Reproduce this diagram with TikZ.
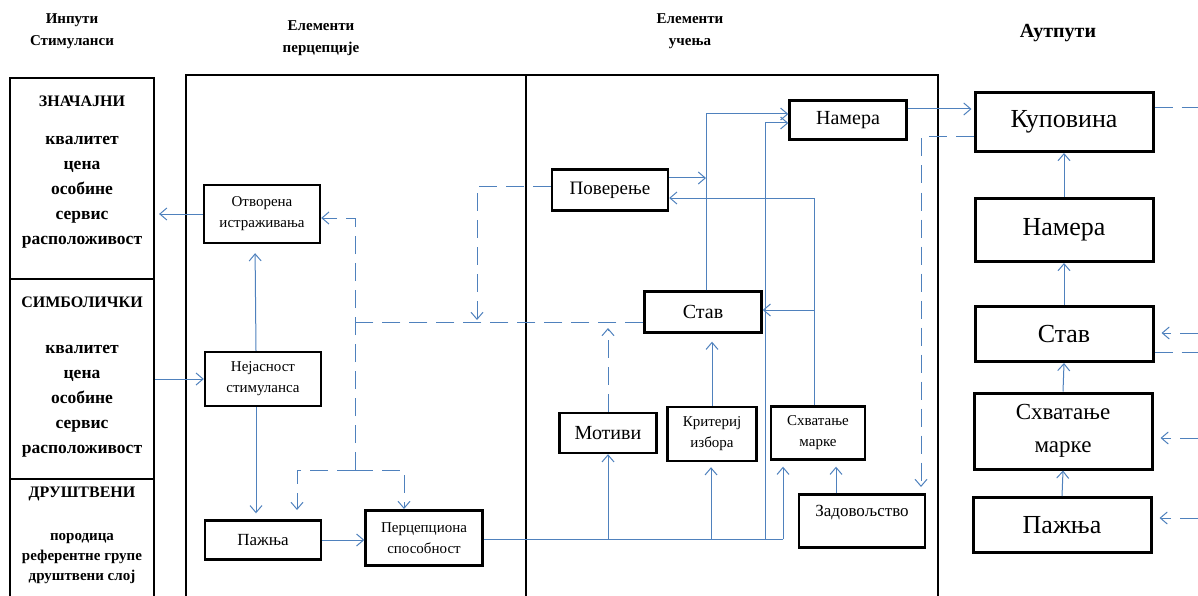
\documentclass[tikz,border=0pt]{standalone}
\usepackage{fontspec}
\setmainfont{Liberation Serif}
\usetikzlibrary{arrows.meta}
\definecolor{linkblue}{RGB}{79,129,189}

\begin{document}
\begin{tikzpicture}[
  x=1pt, y=-1pt,
  >={Straight Barb[length=7pt,width=12pt]},
  header/.style={align=center, font=\bfseries\fontsize{15}{22}\selectfont},
  section/.style={draw=black, line width=2.2pt, inner sep=0pt, minimum width=144pt},
  stimtitle/.style={font=\bfseries\fontsize{16}{20}\selectfont},
  stimlist/.style={align=center, font=\bfseries\fontsize{17.5}{25}\selectfont},
  frame/.style={draw=black, line width=2pt, inner sep=0pt},
  pbox/.style={
    draw=black,
    line width=2.4pt,
    align=center,
    inner sep=0pt,
    font=\fontsize{15}{21}\selectfont
  },
  obox/.style={
    draw=black,
    line width=3pt,
    align=center,
    inner sep=0pt,
    minimum width=178pt,
    font=\fontsize{26}{33}\selectfont
  },
  flow/.style={draw=linkblue, line width=1pt},
  dflow/.style={flow, dash pattern=on 18pt off 9pt}
]
\useasboundingbox (0,0) rectangle (1198,596);

% Column headers.
\node[header] (hinput) at (72,31) {Инпути\\Стимуланси};
\node[header] (hperc)  at (321,38) {Елементи\\перцепције};
\node[header] (hlearn) at (690,31) {Елементи\\учења};
\node[header, font=\bfseries\fontsize{20}{24}\selectfont] (houtput) at (1058,33) {Аутпути};

% Input stimuli: three stacked sections.
\node[section, minimum height=201pt] (signif) at (82,178.5) {};
\node[section, minimum height=200pt] (symbol) at (82,379) {};
\node[section, minimum height=141pt] (social) at (82,549.5) {};

\node[stimtitle] (signifhead) at (82,101) {ЗНАЧАЈНИ};
\node[stimlist]  (signiflist) at (82,192) {квалитет\\цена\\особине\\сервис\\расположивост};
\node[stimtitle] (symbolhead) at (82,302) {СИМБОЛИЧКИ};
\node[stimlist]  (symbollist) at (82,401) {квалитет\\цена\\особине\\сервис\\расположивост};
\node[stimtitle] (socialhead) at (82,494) {ДРУШТВЕНИ};
\node[stimlist, font=\bfseries\fontsize{15}{20}\selectfont] (sociallist) at (82,559) {породица\\референтне групе\\друштвени слој};

% Perception and learning frames, open at the bottom.
\node[frame, minimum width=340pt, minimum height=545pt] (percframe)  at (356,347.5) {};
\node[frame, minimum width=412pt, minimum height=545pt] (learnframe) at (732,347.5) {};

% Perception elements.
\node[pbox, minimum width=116pt, minimum height=58pt] (openres) at (262,214) {Отворена\\истраживања};
\node[pbox, minimum width=116pt, minimum height=54pt] (ambig)   at (263,379) {Нејасност\\стимуланса};
\node[pbox, minimum width=116pt, minimum height=39pt, font=\fontsize{17}{21}\selectfont] (attn) at (263,540) {Пажња};
\node[pbox, minimum width=117pt, minimum height=55pt] (percap)  at (424,538) {Перцепциона\\способност};

% Learning elements.
\node[pbox, minimum width=117pt, minimum height=39pt, font=\fontsize{20}{24}\selectfont] (intentL)   at (848,120) {Намера};
\node[pbox, minimum width=116pt, minimum height=41pt, font=\fontsize{19}{24}\selectfont] (trustL)    at (610,190) {Поверење};
\node[pbox, minimum width=117pt, minimum height=41pt, font=\fontsize{20}{24}\selectfont] (attitudeL) at (703,312) {Став};
\node[pbox, minimum width=97pt,  minimum height=40pt, font=\fontsize{20}{24}\selectfont] (motivesL)  at (608,433) {Мотиви};
\node[pbox, minimum width=89pt,  minimum height=54pt] (criterL) at (712,434) {Критериј\\избора};
\node[pbox, minimum width=94pt,  minimum height=53pt] (comprL)  at (818,433) {Схватање\\марке};
\node[pbox, minimum width=126pt, minimum height=53pt] (satisL)  at (862,521) {};
\node[font=\fontsize{17}{21}\selectfont] (satistext) at (862,513) {Задовољство};

% Outputs.
\node[obox, minimum height=59pt] (buyR)      at (1064,122) {Куповина};
\node[obox, minimum height=63pt] (intentR)   at (1064,230) {Намера};
\node[obox, minimum height=55pt] (attitudeR) at (1064,334) {Став};
\node[obox, minimum height=76pt, font=\fontsize{23}{33}\selectfont] (comprR) at (1063,431) {Схватање\\марке};
\node[obox, minimum height=55pt] (attnR)     at (1062,525) {Пажња};

% Helper points for the connectors.
\coordinate (busend)   at (783,539);
\coordinate (fbleft)   at (355,322);
\coordinate (fbtop)    at (355,218);
\coordinate (fbbot)    at (355,470);
\coordinate (fbattn)   at (297,510);
\coordinate (trustdrop) at (477,186);
\coordinate (buydrop)  at (921,137);
\coordinate (satishint) at (921,487);

% Perception links.
\draw[flow,->,shorten >=4pt] (openres.west) -- (openres.west -| signif.east);
\draw[flow,->] (ambig.west -| symbol.east) -- (ambig.west);
\draw[flow,->,shorten >=9pt] ([xshift=-7pt]ambig.north) -- ([xshift=-7pt]openres.south);
\draw[flow,->,shorten >=6pt] ([xshift=-7pt]ambig.south) -- ([xshift=-7pt]attn.north);
\draw[flow,->] (attn.east) -- (attn.east -| percap.west);

% Perceptual ability feeds the learning elements.
\draw[flow] (percap.east |- busend) -- (busend);
\draw[flow,->] (motivesL.south |- busend) -- (motivesL.south);
\draw[flow,->,shorten >=5pt] ([xshift=-1pt]criterL.south |- busend) -- ([xshift=-1pt]criterL.south);
\draw[flow,->,shorten >=6pt] (busend) -- (busend |- comprL.south);
\draw[flow,->] (765,539) -- (765,123) -- ([yshift=-3pt]intentL.west);

% Feedback from attitude, trust and motives (dashed).
\draw[dflow] ([yshift=-10pt]attitudeL.west) -- (fbleft);
\draw[dflow,->] (fbbot) -- (fbtop) -- (fbtop -| openres.east);
\draw[dflow,->] (fbbot) -- (fbbot -| fbattn) -- (fbattn);
\draw[dflow,->,shorten >=1pt] (fbbot) -- (404,470) -- (404,510);
\draw[dflow,->,shorten >=2pt] ([yshift=4pt]trustL.west) -- (trustdrop) -- (trustdrop |- fbleft);
\draw[dflow,->,shorten >=6pt] (motivesL.north) -- (motivesL.north |- fbleft);

% Learning links.
\draw[flow,->] ([yshift=12pt]trustL.east) -- (706,178);
\draw[flow,->] ([xshift=3pt]attitudeL.north) -- (706,114) -- ([yshift=6pt]intentL.west);
\draw[flow,->] ([xshift=-4pt]comprL.north) -- (814,198) -- ([yshift=-8pt]trustL.east);
\draw[flow,->] (814,310) -- (814,310 -| attitudeL.east);
\draw[flow,->,shorten >=8pt] (criterL.north) -- (criterL.north |- attitudeL.south);
\draw[flow,->,shorten >=6pt] ([xshift=-26pt]satisL.north) -- ([xshift=-26pt]satisL.north |- comprL.south);
\draw[flow,->,shorten >=2pt] ([yshift=11pt]intentL.east) -- ([yshift=11pt]intentL.east -| buyR.west);
\draw[dflow,->] ([yshift=-15pt]buyR.west) -- (buydrop) -- (satishint);

% Output chain.
\draw[flow,->] (attnR.north) -- (comprR.south);
\draw[flow,->] (comprR.north) -- (attitudeR.south);
\draw[flow,->] (attitudeR.north) -- (intentR.south);
\draw[flow,->] (intentR.north) -- (buyR.south);

% Links leaving the picture on the right.
\draw[dflow] ([yshift=14pt]buyR.east) -- (1198,108);
\draw[dflow,->,shorten >=7pt] (1198,333) -- (1198,333 -| attitudeR.east);
\draw[dflow] ([yshift=-18pt]attitudeR.east) -- (1198,352);
\draw[dflow,->,shorten >=7pt] (1198,438) -- (1198,438 -| comprR.east);
\draw[dflow,->,shorten >=7pt] (1198,518) -- (1198,518 -| attnR.east);

\end{tikzpicture}
\end{document}
